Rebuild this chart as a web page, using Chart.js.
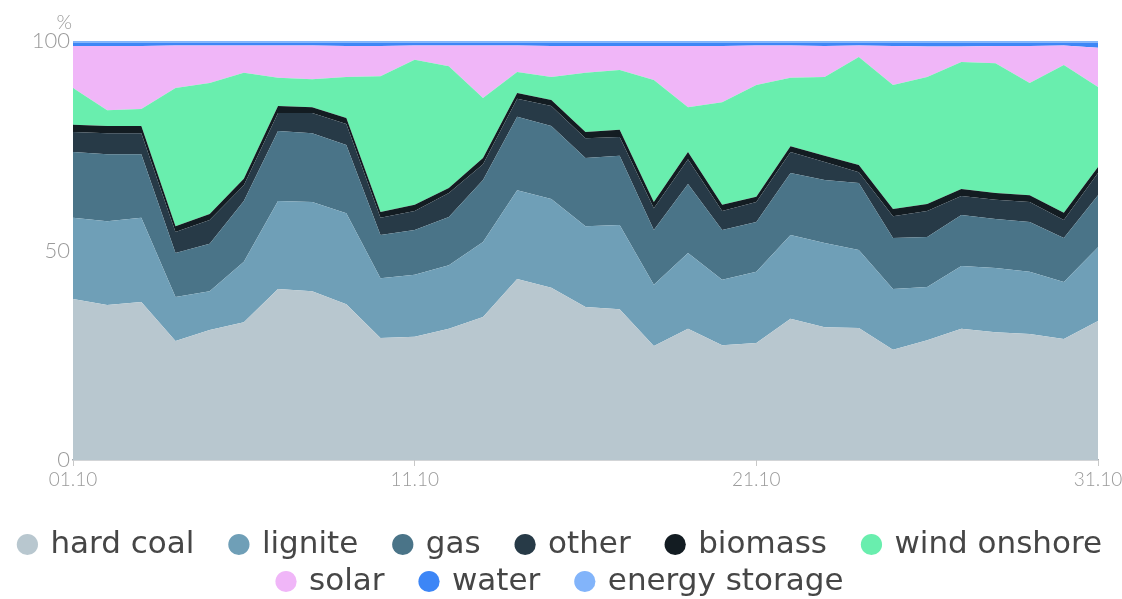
<!DOCTYPE html>
<html>
<head>
<meta charset="utf-8">
<script src="https://cdn.jsdelivr.net/npm/chart.js@4.4.1/dist/chart.umd.min.js"></script>
<style>
  html, body { margin: 0; padding: 0; background: #fff; }
  #wrap { width: 1122px; height: 599px; }
</style>
</head>
<body>
<div id="wrap"><canvas id="chart" width="1122" height="599"></canvas></div>
<script>
/* data, percent of daily net generation, October */
var days = [];
for (var d = 1; d <= 31; d++) {
	days.push((d < 10 ? '0' + d : '' + d) + '.10');
}

var hardCoal = [38.4,37.0,37.7,28.4,31.0,32.9,40.8,40.3,37.2,29.1,29.4,31.3,34.1,43.2,41.1,36.5,36.0,27.2,31.3,27.4,27.9,33.7,31.7,31.5,26.3,28.6,31.3,30.5,30.1,28.9,33.2];
var lignite  = [19.4,20.0,20.1,10.5,9.3,14.4,21.0,21.3,21.7,14.3,14.8,15.2,17.9,21.2,21.2,19.3,20.1,14.6,18.1,15.6,17.0,20.0,20.1,18.6,14.5,12.7,15.0,15.3,14.8,13.6,17.6];
var gas      = [15.7,16.0,15.2,10.5,11.3,14.5,16.7,16.4,16.3,10.3,10.7,11.5,14.8,17.5,17.4,16.3,16.5,13.1,16.5,11.9,11.9,14.8,15.0,16.0,12.2,11.9,12.2,11.7,11.9,10.5,12.4];
var other    = [4.8,5.0,5.0,5.0,5.7,3.8,4.3,4.8,5.0,4.1,4.5,5.7,3.8,4.3,4.8,4.7,4.5,5.2,5.9,4.5,4.8,5.0,4.3,2.6,5.2,6.2,4.5,4.6,4.8,4.3,5.3];
var biomass  = [1.7,1.7,1.7,1.4,1.4,1.5,1.7,1.4,1.4,1.4,1.5,1.2,1.5,1.4,1.4,1.5,1.7,1.5,1.7,1.5,1.2,1.4,1.5,1.7,1.7,1.7,1.7,1.6,1.6,1.7,1.4];
var wind     = [8.8,3.8,4.1,33.0,31.3,25.3,6.7,6.7,9.8,32.4,34.6,29.1,14.3,5.0,5.5,14.1,14.3,29.1,10.7,24.5,26.7,16.3,18.8,25.8,29.6,30.3,30.3,31.0,26.8,35.3,19.1];
var solar    = [10.0,15.3,15.0,10.1,8.9,6.5,7.7,8.0,7.4,7.2,3.4,4.9,12.5,6.3,7.4,6.4,5.7,8.1,14.6,13.4,9.4,7.7,7.4,2.7,9.3,7.3,3.7,4.1,8.8,4.6,9.4];
var water    = [0.8,0.8,0.8,0.7,0.7,0.7,0.7,0.7,0.8,0.8,0.7,0.7,0.7,0.7,0.8,0.8,0.8,0.8,0.8,0.8,0.7,0.7,0.8,0.7,0.8,0.9,0.9,0.8,0.8,0.7,1.2];
var storage  = [0.4,0.4,0.4,0.4,0.4,0.4,0.4,0.4,0.4,0.4,0.4,0.4,0.4,0.4,0.4,0.4,0.4,0.4,0.4,0.4,0.4,0.4,0.4,0.4,0.4,0.4,0.4,0.4,0.4,0.4,0.4];

var yTicks = [0, 50, 100];

var names  = ['hard coal','lignite','gas','other','biomass','wind onshore','solar','water','energy storage'];
var series = [hardCoal, lignite, gas, other, biomass, wind, solar, water, storage];
var colors = ['#b8c7cf','#6f9fb7','#4a7488','#273a47','#131c22','#69eeae','#f0b6f8','#3d86f6','#82b4fa'];
var rowEnds = [5, 8]; // last legend item of each row

var datasets = [];
for (var i = 0; i < series.length; i++) {
	datasets.push({
		label: names[i],
		data: series[i],
		backgroundColor: colors[i],
		borderColor: colors[i],
		borderWidth: 0,
		pointRadius: 0,
		pointHoverRadius: 0,
		tension: 0,
		fill: i === 0 ? 'origin' : '-1'
	});
}

// "%" above the y axis
var unitLabel = {
	id: 'unitLabel',
	afterDraw: function(chart) {
		var c = chart.ctx;
		c.save();
		c.font = '300 20px Lato';
		c.fillStyle = '#9a9a9a';
		c.textAlign = 'right';
		c.textBaseline = 'alphabetic';
		c.fillText('%', chart.chartArea.left - 1, chart.chartArea.top - 12);
		c.restore();
	}
};

var ctx = document.getElementById('chart');
new Chart(ctx, {
	type: 'line',
	data: { labels: days, datasets: datasets },
	plugins: [unitLabel],
	options: {
		responsive: false,
		animation: false,
		maintainAspectRatio: false,
		layout: { padding: { top: 41, right: 0, left: 0, bottom: 0 } },
		plugins: {
			tooltip: { enabled: false },
			legend: {
				position: 'bottom',
				maxHeight: 76,
				labels: {
					usePointStyle: true,
					pointStyle: 'circle',
					boxWidth: 15,
					boxHeight: 15,
					padding: 6,
					color: '#464646',
					font: { family: 'DejaVu Sans', size: 31 },
					generateLabels: function(chart) {
						var items = Chart.defaults.plugins.legend.labels.generateLabels(chart);
						items.forEach(function(it, k) {
							if (rowEnds.indexOf(k) < 0) it.text = it.text + '\u2003';
						});
						return items;
					}
				}
			}
		},
		scales: {
			x: {
				offset: false,
				border: { color: '#a8acb0', width: 1.5 },
				grid: {
					drawOnChartArea: false,
					drawTicks: true,
					tickLength: 6,
					color: function(c) { return c.index % 10 === 0 ? '#c8c8c8' : 'transparent'; }
				},
				ticks: {
					autoSkip: false,
					maxRotation: 0,
					padding: 2,
					color: '#9a9a9a',
					font: { family: 'Lato', size: 19, weight: 300 },
					callback: function(v, idx) { return idx % 10 === 0 ? days[idx] : ''; }
				},
				afterFit: function(s) {
					s.height = 63;
					s.paddingLeft = 0;
					s.paddingRight = 24;
				}
			},
			y: {
				stacked: true,
				min: 0,
				max: 100,
				z: 1,
				border: { color: '#d0d4d8', width: 1 },
				grid: {
					drawTicks: false,
					color: function(c) { return c.tick.value === 50 ? 'rgba(40,60,80,0.18)' : 'transparent'; },
					lineWidth: 1.5
				},
				afterBuildTicks: function(s) {
					s.ticks = yTicks.map(function(v) { return { value: v }; });
				},
				ticks: {
					padding: 3,
					color: '#9a9a9a',
					font: { family: 'Lato', size: 22, weight: 300 }
				},
				afterFit: function(s) { s.width = 73; }
			}
		}
	}
});
</script>
</body>
</html>
